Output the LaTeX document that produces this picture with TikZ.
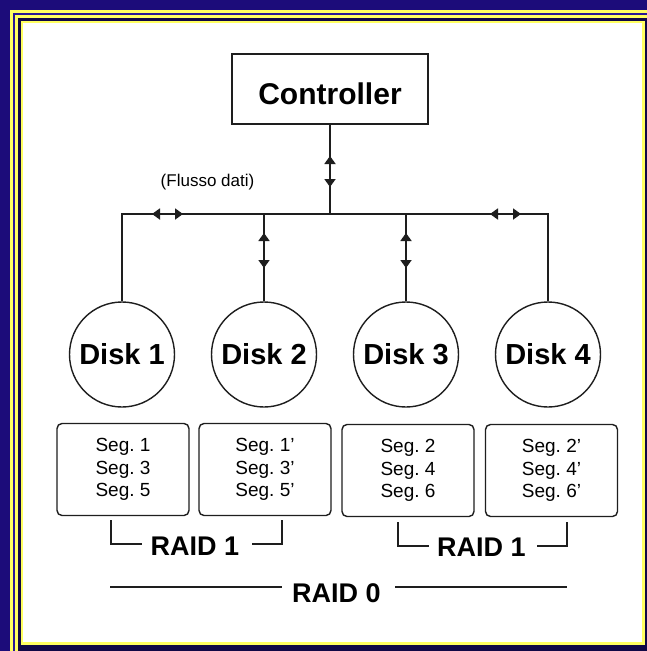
\documentclass[tikz,border=0pt]{standalone}
\usepackage{fontspec}
\setmainfont{Liberation Sans}
\usetikzlibrary{arrows.meta}

\definecolor{frameblue}{RGB}{28,12,122}
\definecolor{framemid}{RGB}{40,24,150}
\definecolor{framenavy}{RGB}{16,8,70}
\definecolor{frameyellow}{RGB}{255,255,96}
\definecolor{ink}{RGB}{30,30,30}

\tikzset{
  wire/.style={line width=1.8pt, draw=ink},
  flow/.style={line width=1.8pt, draw=ink,
    {Triangle[length=8pt,width=11pt]}-{Triangle[length=8pt,width=11pt]}},
  ctrlbox/.style={rectangle, draw=ink, line width=1.8pt, minimum width=196pt,
    minimum height=70pt, inner sep=0pt, text height=31.5pt, text depth=0pt,
    font=\fontsize{30}{36}\selectfont\bfseries},
  disk/.style={circle, draw=ink, line width=1.4pt, minimum size=105pt,
    inner sep=0pt, font=\fontsize{29}{34}\selectfont\bfseries},
  segbox/.style={rectangle, rounded corners=5pt, draw=ink, line width=1.4pt,
    minimum width=132pt, minimum height=92pt, align=center,
    font=\fontsize{19}{22.5}\selectfont},
  raidlabel/.style={anchor=base, inner sep=0pt,
    font=\fontsize{27}{32}\selectfont\bfseries},
}

\begin{document}
\frenchspacing
\begin{tikzpicture}[x=1pt,y=-1pt]
\useasboundingbox (0,0) rectangle (647,651);
\clip (0,0) rectangle (647,651);

% blue and yellow picture frame
\fill[frameblue] (0,0) rectangle (647,651);
\fill[frameyellow] (10,10) rectangle (700,700);
\fill[framemid] (13,13) rectangle (700,700);
\fill[frameyellow] (15,15) rectangle (700,700);
\fill[framenavy] (18,18) rectangle (700,700);
\fill[frameyellow] (21,21) rectangle (644.5,644.5);
\fill[white] (22.5,22.5) rectangle (641.5,642);

% controller and disks
\node[ctrlbox] (ctrl) at (330,89) {Controller};
\node[disk] (disk1) at (122,354.5) {Disk 1};
\node[disk] (disk2) at (264,354.5) {Disk 2};
\node[disk] (disk3) at (406,354.5) {Disk 3};
\node[disk] (disk4) at (548,354.5) {Disk 4};

% data bus
\coordinate (bus) at (330,214);
\draw[wire] (ctrl.south) -- (bus);
\draw[wire] (disk1.north) |- (bus) -| (disk4.north);
\draw[wire] (disk2.north) -- (disk2.north |- bus);
\draw[wire] (disk3.north) -- (disk3.north |- bus);

% data flow markers
\coordinate (fc1) at (330,156);   \coordinate (fc2) at (330,187);
\coordinate (fl1) at (152,214);   \coordinate (fl2) at (183,214);
\coordinate (fr1) at (490,214);   \coordinate (fr2) at (521,214);
\coordinate (fd2a) at (264,233); \coordinate (fd2b) at (264,268);
\coordinate (fd3a) at (406,233); \coordinate (fd3b) at (406,268);
\draw[flow] (fc1) -- (fc2);
\draw[flow] (fl1) -- (fl2);
\draw[flow] (fr1) -- (fr2);
\draw[flow] (fd2a) -- (fd2b);
\draw[flow] (fd3a) -- (fd3b);

\node[anchor=base, inner sep=0pt, font=\fontsize{17}{20}\selectfont]
  (flowlabel) at (207.5,186) {(Flusso dati)};

% segment contents
\node[segbox] (seg1) at (123,469.5) {Seg. 1\\Seg. 3\\Seg. 5};
\node[segbox] (seg2) at (265,469.5) {Seg. 1'\\Seg. 3'\\Seg. 5'};
\node[segbox] (seg3) at (408,470.5) {Seg. 2\\Seg. 4\\Seg. 6};
\node[segbox] (seg4) at (551.5,470.5) {Seg. 2'\\Seg. 4'\\Seg. 6'};

% mirrored pairs
\node[raidlabel] (raidA) at (195,555) {RAID 1};
\node[raidlabel] (raidB) at (481.5,556) {RAID 1};
\draw[wire, line width=1.5pt] (111,520) |- (142,544);
\draw[wire, line width=1.5pt] (252,544) -| (282,520);
\draw[wire, line width=1.5pt] (398,522) |- (429,546);
\draw[wire, line width=1.5pt] (537,546) -| (567,522);

% striped set
\node[raidlabel] (raidZ) at (336.5,602) {RAID 0};
\draw[wire, line width=1.5pt] (110,587) -- (282,587);
\draw[wire, line width=1.5pt] (395,587) -- (567,587);
\end{tikzpicture}
\end{document}
